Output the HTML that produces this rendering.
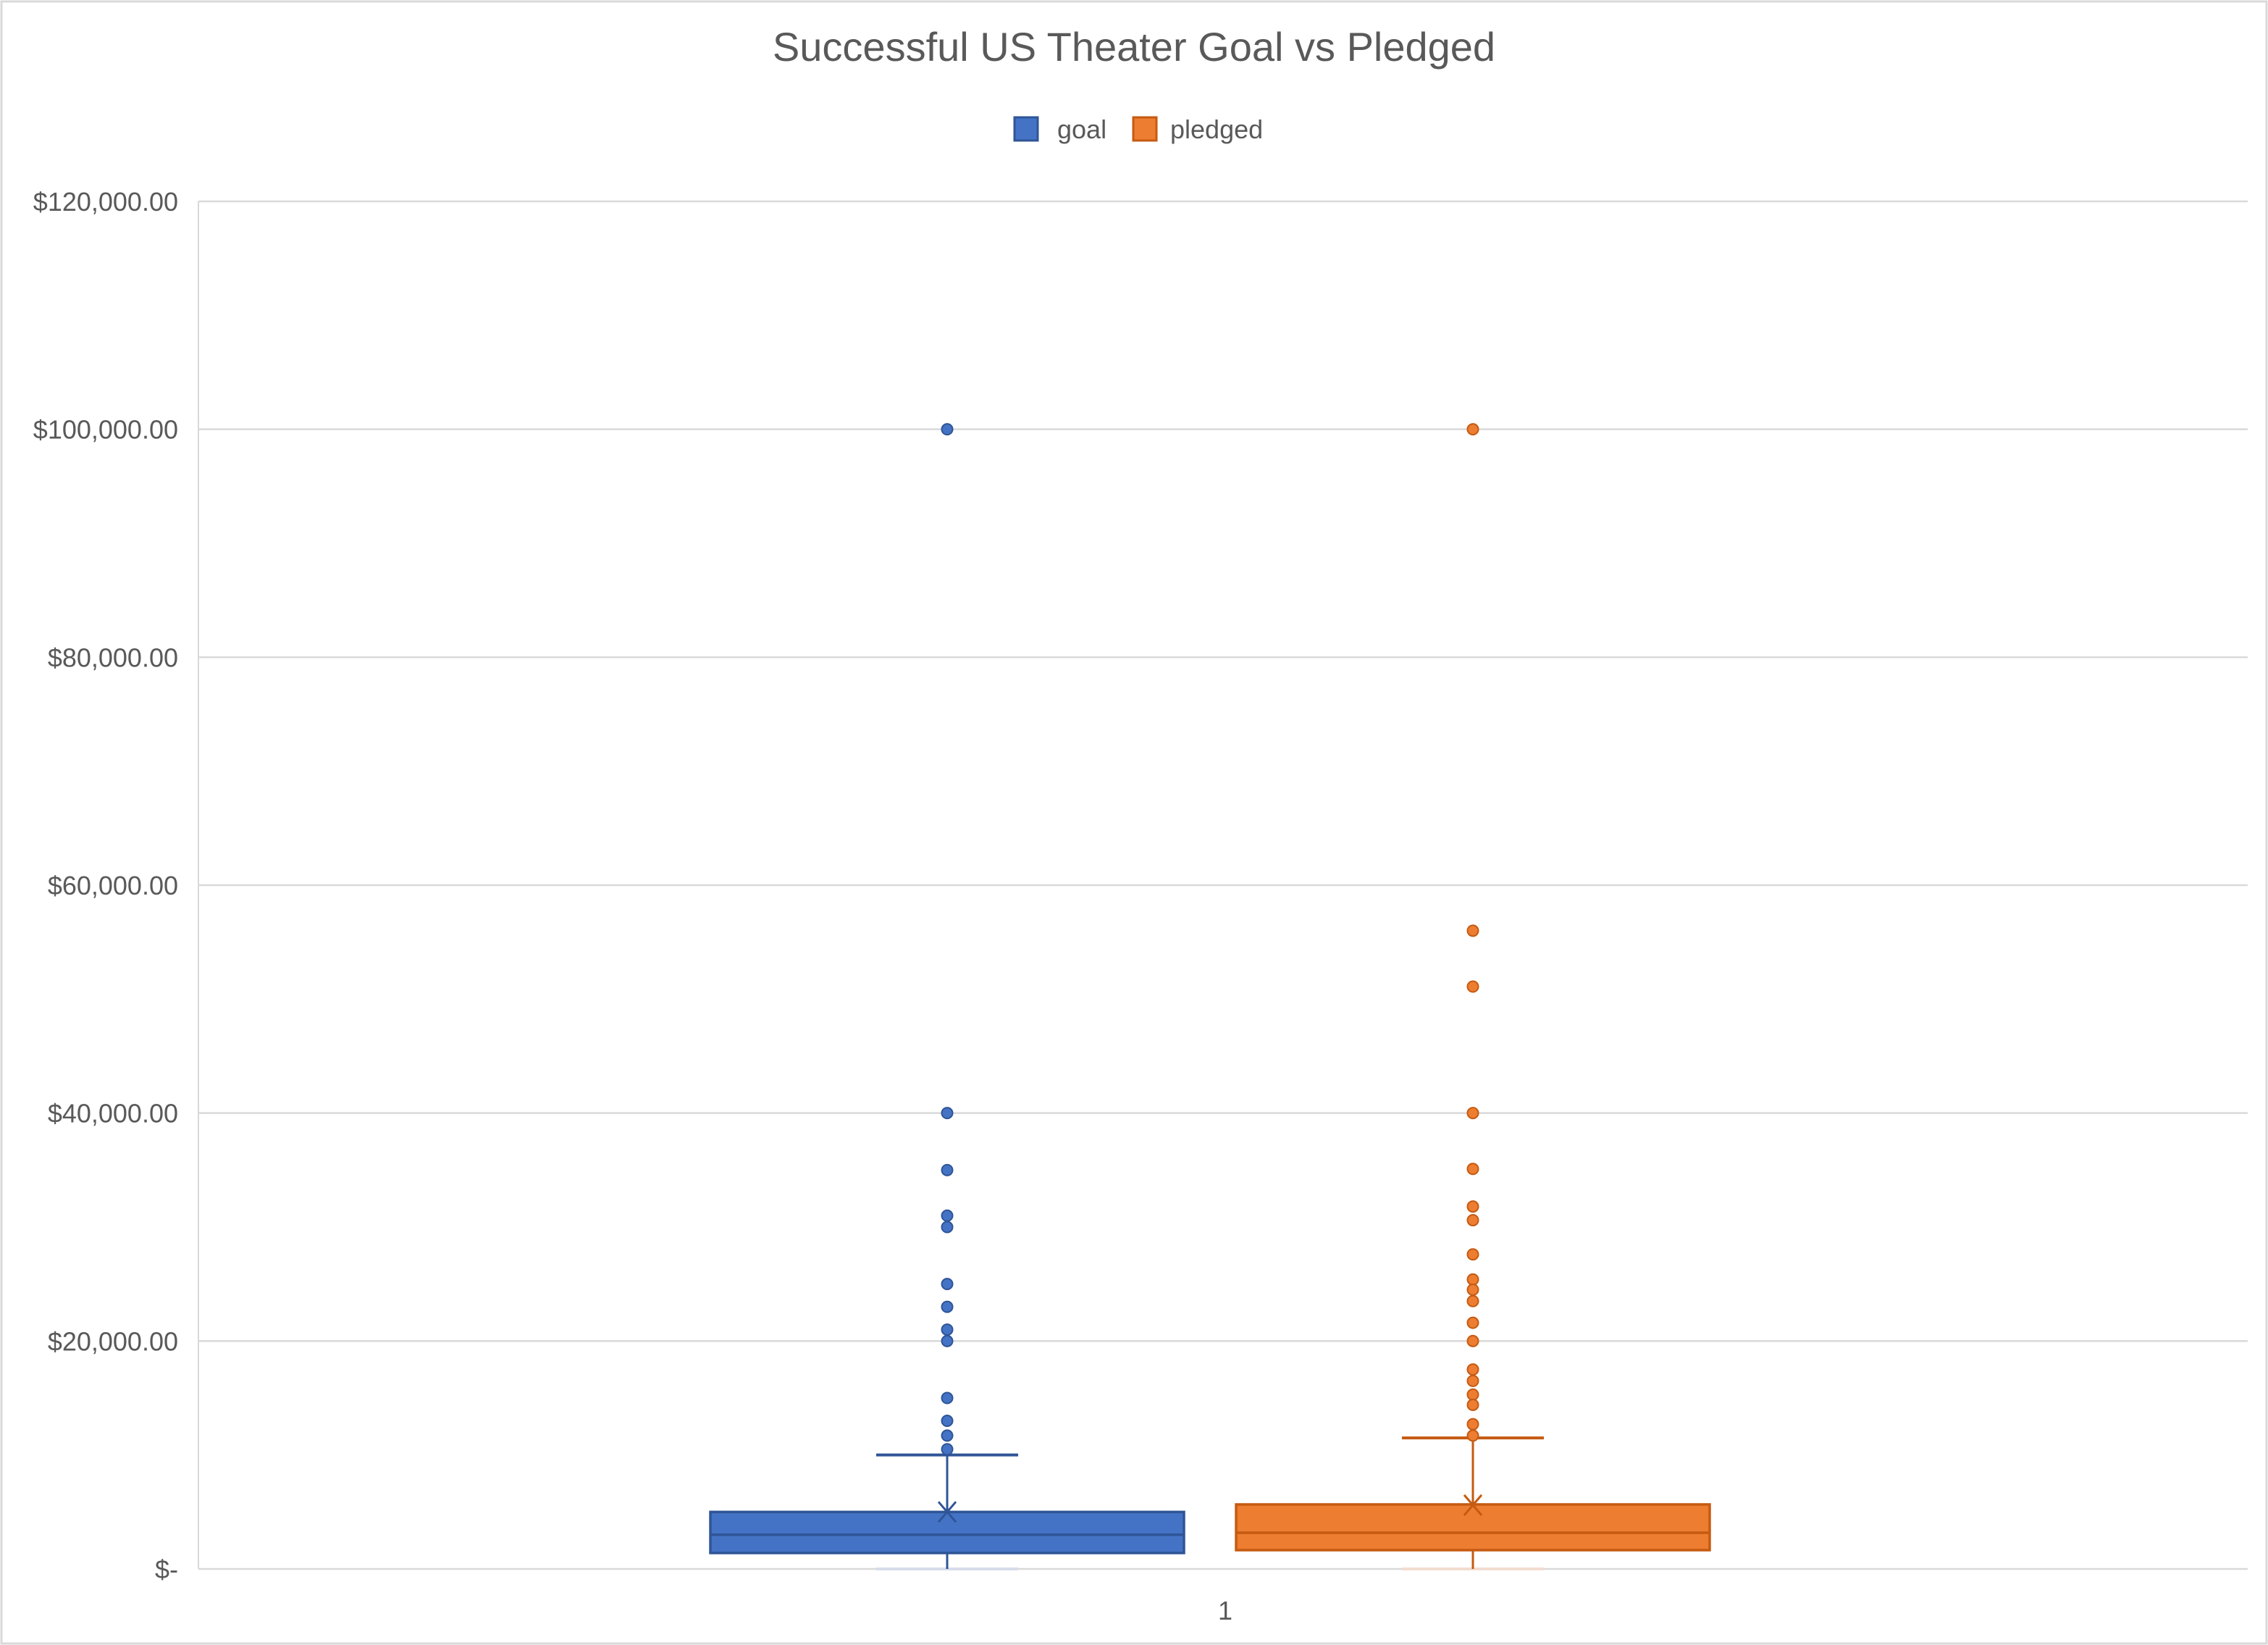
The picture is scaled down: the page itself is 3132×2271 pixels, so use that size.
<!DOCTYPE html>
<html><head><meta charset="utf-8"><style>
html,body{margin:0;padding:0;background:#fff;}
svg{display:block;font-family:"Liberation Sans",sans-serif;}
</style></head><body>
<svg width="3132" height="2271" viewBox="0 0 3132 2271">
<rect x="2" y="2" width="3128" height="2267" fill="#fff" stroke="#D9D9D9" stroke-width="3"/>
<text x="1566" y="84" text-anchor="middle" font-size="56" fill="#595959">Successful US Theater Goal vs Pledged</text>
<g>
<rect x="1401" y="162" width="32" height="32" fill="#4472C4" stroke="#2F5597" stroke-width="3"/>
<text x="1460" y="191" font-size="36" fill="#595959">goal</text>
<rect x="1565" y="162" width="32" height="32" fill="#ED7D31" stroke="#C55A11" stroke-width="3"/>
<text x="1616" y="191" font-size="36" fill="#595959">pledged</text>
</g>
<g id="grid"></g>
<g id="ylabels"></g>
<g id="marks"></g>
<text x="1692" y="2236" text-anchor="middle" font-size="36" fill="#595959">1</text>
</svg>
<script>
const yTicks = [0, 20000, 40000, 60000, 80000, 100000, 120000];
const yTickLabels = ["$-", "$20,000.00", "$40,000.00", "$60,000.00", "$80,000.00", "$100,000.00", "$120,000.00"];
const seriesNames = ["goal", "pledged"];
const mins = [0, 0];
const q1s = [1400, 1650];
const medians = [3000, 3180];
const q3s = [5000, 5660];
const maxes = [10000, 11500];
const means = [5000, 5600];
const goalOutliers = [100000, 40000, 35000, 31000, 30000, 25000, 23000, 21000, 20000, 15000, 13000, 11700, 10500];
const pledgedOutliers = [100000, 56000, 51100, 40000, 35100, 31800, 30600, 27600, 25400, 24500, 23500, 21600, 20000, 17500, 16500, 15300, 14400, 12700, 11700];

const NS = "http://www.w3.org/2000/svg";
const plotL = 274, plotR = 3104, plotT = 278, plotB = 2166, yMax = 120000;
function yScale(v){ return plotB - v / yMax * (plotB - plotT); }
const centers = [1308, 2034];
const boxHalf = 327, capHalf = 98;
const fills = ["#4472C4", "#ED7D31"], strokes = ["#2F5597", "#C55A11"];
const outliers = [goalOutliers, pledgedOutliers];

function mk(tag, attrs, parent){
  const e = document.createElementNS(NS, tag);
  for (const k in attrs) e.setAttribute(k, attrs[k]);
  parent.appendChild(e);
  return e;
}
const grid = document.getElementById("grid");
const ylab = document.getElementById("ylabels");
const marks = document.getElementById("marks");

mk("line", {x1: plotL, y1: plotT, x2: plotL, y2: plotB, stroke: "#D9D9D9", "stroke-width": 2}, grid);
yTicks.forEach((t, i) => {
  const y = yScale(t);
  const l = mk("line", {x1: plotL, y1: y, x2: plotR, y2: y, stroke: "#D9D9D9", "stroke-width": 2.5}, grid);
  
  
  const tx = mk("text", {x: 246, y: y + 13, "text-anchor": "end", "font-size": 36, fill: "#595959"}, ylab);
  tx.textContent = yTickLabels[i];
  
  
});

seriesNames.forEach((name, i) => {
  const cx = centers[i], f = fills[i], s = strokes[i];
  const g = mk("g", {}, marks);
  
  
  mk("line", {x1: cx - capHalf, y1: yScale(mins[i]), x2: cx + capHalf, y2: yScale(mins[i]), stroke: i ? "#F2DDD0" : "#D6DCE8", "stroke-width": 4}, g);
  mk("line", {x1: cx, y1: yScale(mins[i]), x2: cx, y2: yScale(q1s[i]), stroke: s, "stroke-width": 3}, g);
  mk("line", {x1: cx, y1: yScale(q3s[i]), x2: cx, y2: yScale(maxes[i]), stroke: s, "stroke-width": 3}, g);
  mk("line", {x1: cx - capHalf, y1: yScale(maxes[i]), x2: cx + capHalf, y2: yScale(maxes[i]), stroke: s, "stroke-width": 4}, g);
  const b = mk("rect", {x: cx - boxHalf, y: yScale(q3s[i]), width: 2 * boxHalf, height: yScale(q1s[i]) - yScale(q3s[i]), fill: f, stroke: s, "stroke-width": 3.5}, g);
  
  
  mk("line", {x1: cx - boxHalf, y1: yScale(medians[i]), x2: cx + boxHalf, y2: yScale(medians[i]), stroke: s, "stroke-width": 3.5}, g);
  const my = yScale(means[i]);
  mk("path", {d: `M${cx-12},${my-14}L${cx+12},${my+14}M${cx-12},${my+14}L${cx+12},${my-14}`, stroke: s, "stroke-width": 3, fill: "none"}, g);
  outliers[i].forEach(v => {
    const c = mk("circle", {cx: cx, cy: yScale(v), r: 7.5, fill: f, stroke: s, "stroke-width": 2}, g);
    
    
  });
});
</script>
</body></html>
